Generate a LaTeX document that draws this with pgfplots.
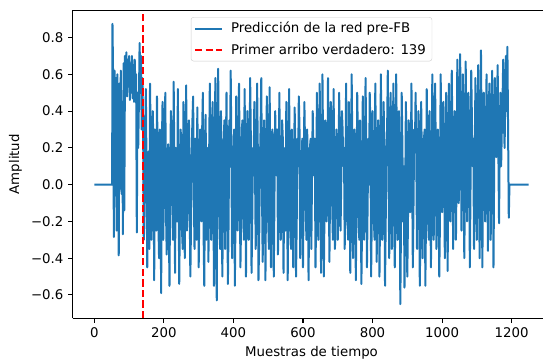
\documentclass[border=0pt]{standalone}
\usepackage{pgfplots}
\pgfplotsset{compat=1.18}
\usepackage{fontspec}
\setmainfont{DejaVu Sans}
\definecolor{mplblue}{HTML}{1F77B4}
\begin{document}
\fontsize{13.33bp}{16bp}\selectfont
\begin{tikzpicture}
\begin{axis}[
  at={(0,0)}, anchor=south west,
  scale only axis, width=477.6bp, height=308.3bp,
  xmin=-62.45, xmax=1311.45, ymin=-0.727, ymax=0.95,
  axis x line*=bottom, axis y line*=left,
  xtick={0,200,400,600,800,1000,1200},
  xticklabels={0,200,400,600,800,1000,1200},
  ytick={-0.6,-0.4,-0.2,0,0.2,0.4,0.6,0.8},
  yticklabels={−0.6,−0.4,−0.2,0.0,0.2,0.4,0.6,0.8},
  tick align=outside, major tick length=4.67bp,
  tick style={black, line width=1.07bp},
  axis line style={black, line width=1.07bp},
  tick label style={font=\fontsize{13.33bp}{16bp}\selectfont, text=black},
  label style={font=\fontsize{13.33bp}{16bp}\selectfont, text=black},
  xlabel={Muestras de tiempo}, ylabel={Amplitud},
  legend style={at={(0.5,0.977)}, anchor=north, draw=black!20, rounded corners=2.5bp,
    fill=white, fill opacity=0.8, text opacity=1, font=\fontsize{13.33bp}{16bp}\selectfont,
    inner xsep=3bp, inner ysep=2.5bp, nodes={inner xsep=3bp, inner ysep=2.5bp}, /tikz/row sep=4bp},
  legend cell align=left,
  legend image code/.code={\draw[#1] (0bp,0bp) -- (26.7bp,0bp); \path (32bp,0bp);},
]
\addplot[mplblue, line width=2bp, line join=round] coordinates {
(0,0) (51,0) (52,0.875) (54,0.55) (56,-0.285) (58,0.62) (60,0.48) (62,0.58) (64,-0.25) (66,0.6)
(68,0.1) (70,-0.385) (72,0.55) (74,0.3) (76,0.62) (78,-0.05) (80,0.45) (82,-0.27) (84,0.66) (86,-0.14)
(88,0.7) (90,0.5) (92,0.72) (94,0.48) (96,0.68) (98,0.55) (100,0.7) (102,0.46) (104,0.66) (106,0.5)
(108,0.7) (110,0.47) (112,0.65) (114,0.45) (116,0.68) (118,0.52) (120,0.6) (122,-0.26) (124,0.5) (126,0.2)
(128,0.45) (130,0.77) (132,0.55) (134,0.7) (136,0.3) (138,0.58)
(140,0.35) (142,-0.3) (144,-0.12) (146,0.25) (148,0.52) (150,0.05) (152,-0.45) (154,-0.1) (156,0.18) (158,-0.35)
(160,0.55) (162,0.2) (164,-0.30) (166,0.1) (168,0.40) (170,0.15) (172,-0.52) (174,0.3) (176,0.10) (178,-0.25)
(180,0.48) (182,0.12) (184,-0.20) (186,-0.4) (188,0.30) (190,0.0) (192,-0.59) (194,0.2) (196,0.45) (198,-0.3)
(200,-0.05) (202,0.32) (204,0.50) (206,-0.15) (208,-0.38) (210,0.1) (212,0.22) (214,-0.2) (216,-0.55) (218,0.05)
(220,0.40) (222,0.25) (224,-0.10) (226,-0.3) (228,0.56) (230,0.1) (232,-0.48) (234,0.2) (236,0.15) (238,-0.2)
(240,0.52) (242,0.0) (244,-0.54) (246,-0.15) (248,0.30) (250,0.22) (252,-0.25) (254,-0.35) (256,0.45) (258,0.1)
(260,-0.40) (262,0.15) (264,0.54) (266,-0.25) (268,-0.15) (270,0.3) (272,0.35) (274,-0.1) (276,-0.50) (278,-0.2)
(280,0.20) (282,0.35) (284,0.48) (286,-0.05) (288,-0.35) (290,0.25) (292,0.05) (294,-0.3) (296,0.42) (298,0.1)
(300,-0.45) (302,-0.1) (304,0.30) (306,0.05) (308,-0.20) (310,0.3) (312,0.50) (314,-0.25) (316,-0.55) (318,0.0)
(320,0.38) (322,-0.3) (324,0.10) (326,0.2) (328,-0.42) (330,0.15) (332,0.55) (334,-0.1) (336,-0.30) (338,0.25)
(340,0.45) (342,0.0) (344,-0.55) (346,0.2) (348,0.58) (350,-0.2) (352,-0.63) (354,0.3) (356,0.63) (358,0.1)
(360,-0.20) (362,-0.35) (364,0.40) (366,0.05) (368,-0.50) (370,-0.1) (372,0.25) (374,0.35) (376,-0.35) (378,0.15)
(380,0.50) (382,0.0) (384,-0.54) (386,-0.2) (388,0.35) (390,0.1) (392,0.62) (394,0.2) (396,-0.40) (398,-0.1)
(400,0.15) (402,0.3) (404,-0.55) (406,-0.15) (408,0.48) (410,0.2) (412,-0.25) (414,0.05) (416,0.55) (418,0.1)
(420,-0.45) (422,-0.2) (424,0.30) (426,0.35) (428,-0.10) (430,-0.3) (432,0.52) (434,0.15) (436,-0.50) (438,0.0)
(440,0.40) (442,0.2) (444,-0.30) (446,-0.05) (448,0.58) (450,0.25) (452,-0.48) (454,-0.2) (456,0.20) (458,0.05)
(460,0.45) (462,0.1) (464,-0.35) (466,-0.1) (468,0.55) (470,0.2) (472,-0.52) (474,-0.3) (476,0.10) (478,0.3)
(480,0.58) (482,0.0) (484,-0.42) (486,-0.15) (488,0.35) (490,0.2) (492,-0.52) (494,0.05) (496,0.48) (498,0.3)
(500,-0.20) (502,-0.35) (504,0.53) (506,0.1) (508,-0.45) (510,-0.1) (512,0.30) (514,0.15) (516,-0.50) (518,-0.05)
(520,0.40) (522,0.2) (524,0.05) (526,0.3) (528,-0.38) (530,-0.1) (532,0.50) (534,0.1) (536,-0.30) (538,-0.2)
(540,0.35) (542,0.25) (544,-0.48) (546,0.0) (548,0.20) (550,-0.25) (552,0.45) (554,0.1) (556,-0.52) (558,-0.1)
(560,0.52) (562,0.15) (564,-0.25) (566,-0.35) (568,0.30) (570,0.05) (572,-0.45) (574,0.0) (576,0.42) (578,0.2)
(580,-0.50) (582,-0.2) (584,0.25) (586,0.1) (588,0.48) (590,0.3) (592,-0.40) (594,-0.15) (596,0.10) (598,0.25)
(600,-0.45) (602,0.0) (604,0.45) (606,0.2) (608,-0.15) (610,-0.3) (612,0.30) (614,0.1) (616,-0.52) (618,-0.1)
(620,0.20) (622,0.25) (624,-0.35) (626,0.05) (628,0.40) (630,0.15) (632,0.05) (634,0.25) (636,-0.45) (638,-0.15)
(640,0.50) (642,0.1) (644,-0.30) (646,0.0) (648,0.55) (650,0.2) (652,-0.48) (654,-0.2) (656,0.60) (658,0.15)
(660,-0.50) (662,-0.1) (664,0.35) (666,0.3) (668,-0.20) (670,-0.05) (672,0.58) (674,0.2) (676,-0.42) (678,0.0)
(680,0.45) (682,0.3) (684,-0.10) (686,-0.3) (688,0.52) (690,0.1) (692,-0.35) (694,0.05) (696,0.30) (698,0.2)
(700,-0.30) (702,-0.1) (704,0.50) (706,0.25) (708,-0.25) (710,0.0) (712,0.40) (714,0.3) (716,0.10) (718,0.2)
(720,-0.35) (722,-0.05) (724,0.55) (726,0.15) (728,-0.20) (730,-0.3) (732,0.45) (734,0.1) (736,-0.48) (738,0.0)
(740,0.60) (742,0.2) (744,-0.40) (746,-0.15) (748,0.30) (750,0.1) (752,-0.52) (754,-0.1) (756,0.50) (758,0.25)
(760,-0.15) (762,-0.3) (764,0.35) (766,0.05) (768,-0.54) (770,-0.2) (772,0.48) (774,0.15) (776,-0.30) (778,0.05)
(780,0.58) (782,0.2) (784,-0.45) (786,-0.1) (788,0.25) (790,0.0) (792,0.50) (794,0.3) (796,-0.50) (798,-0.15)
(800,0.40) (802,0.1) (804,-0.20) (806,-0.3) (808,0.55) (810,0.15) (812,-0.42) (814,0.0) (816,0.35) (818,0.25)
(820,-0.50) (822,-0.1) (824,0.60) (826,0.2) (828,-0.30) (830,0.05) (832,0.45) (834,0.15) (836,-0.55) (838,-0.2)
(840,0.20) (842,0.3) (844,0.62) (846,0.1) (848,-0.40) (850,-0.1) (852,0.50) (854,0.2) (856,-0.35) (858,0.0)
(860,0.55) (862,0.15) (864,-0.45) (866,-0.15) (868,0.60) (870,0.25) (872,-0.30) (874,-0.05) (876,0.40) (878,0.1)
(880,-0.65) (882,-0.2) (884,0.50) (886,0.2) (888,-0.20) (890,0.1) (892,-0.56) (894,-0.1) (896,0.45) (898,0.15)
(900,-0.50) (902,-0.2) (904,0.35) (906,0.25) (908,-0.15) (910,0.0) (912,0.55) (914,0.1) (916,-0.45) (918,-0.1)
(920,0.30) (922,0.2) (924,0.50) (926,0.15) (928,-0.35) (930,-0.05) (932,0.40) (934,0.3) (936,-0.55) (938,-0.2)
(940,0.45) (942,0.1) (944,-0.40) (946,0.0) (948,0.25) (950,0.3) (952,-0.55) (954,-0.15) (956,0.52) (958,0.15)
(960,-0.20) (962,-0.3) (964,0.40) (966,0.05) (968,-0.45) (970,-0.1) (972,0.60) (974,0.25) (976,-0.30) (978,0.0)
(980,0.55) (982,0.2) (984,-0.35) (986,-0.1) (988,0.30) (990,0.1) (992,-0.50) (994,-0.2) (996,0.60) (998,0.3)
(1000,-0.15) (1002,0.05) (1004,0.45) (1006,0.2) (1008,-0.40) (1010,-0.05) (1012,0.50) (1014,0.25) (1016,-0.47) (1018,0.0)
(1020,0.55) (1022,0.3) (1024,-0.20) (1026,0.1) (1028,0.62) (1030,0.2) (1032,-0.35) (1034,0.05) (1036,0.40) (1038,0.35)
(1040,-0.30) (1042,0.1) (1044,0.68) (1046,0.3) (1048,-0.10) (1050,0.2) (1052,0.71) (1054,0.35) (1056,-0.25) (1058,0.05)
(1060,0.60) (1062,0.25) (1064,-0.40) (1066,0.0) (1068,0.67) (1070,0.3) (1072,-0.20) (1074,0.15) (1076,0.50) (1078,0.2)
(1080,-0.45) (1082,0.0) (1084,0.62) (1086,0.35) (1088,0.10) (1090,0.25) (1092,-0.35) (1094,0.05) (1096,0.58) (1098,0.3)
(1100,-0.30) (1102,0.1) (1104,0.65) (1106,0.35) (1108,-0.40) (1110,0.0) (1112,0.73) (1114,0.2) (1116,-0.45) (1118,0.1)
(1120,0.50) (1122,0.3) (1124,-0.20) (1126,0.05) (1128,0.60) (1130,0.25) (1132,-0.36) (1134,0.1) (1136,0.55) (1138,0.35)
(1140,-0.30) (1142,0.15) (1144,0.62) (1146,0.4) (1148,-0.45) (1150,0.1) (1152,0.58) (1154,0.3) (1156,0.15) (1158,0.4)
(1160,0.65) (1162,0.2) (1164,-0.21) (1166,0.25) (1168,0.50) (1170,0.1) (1172,0.30) (1174,0.45) (1176,0.68) (1178,0.35)
(1180,0.20) (1182,0.5) (1184,0.70) (1186,0.4) (1188,0.75) (1190,0.3) (1192,-0.18) (1194,0) (1249,0)
};
\addlegendentry{Predicción de la red pre-FB}
\addplot[red, line width=2bp, dash pattern=on 7.4bp off 3.2bp] coordinates {(139,-0.727) (139,0.95)};
\addlegendentry{Primer arribo verdadero: 139}
\draw[black, line width=1.07bp] (rel axis cs:0,1) -- (rel axis cs:1,1);
\end{axis}
\pgfresetboundingbox
\useasboundingbox (-72.7bp,-41.7bp) rectangle (470.3bp,318.3bp);
\end{tikzpicture}
\end{document}
